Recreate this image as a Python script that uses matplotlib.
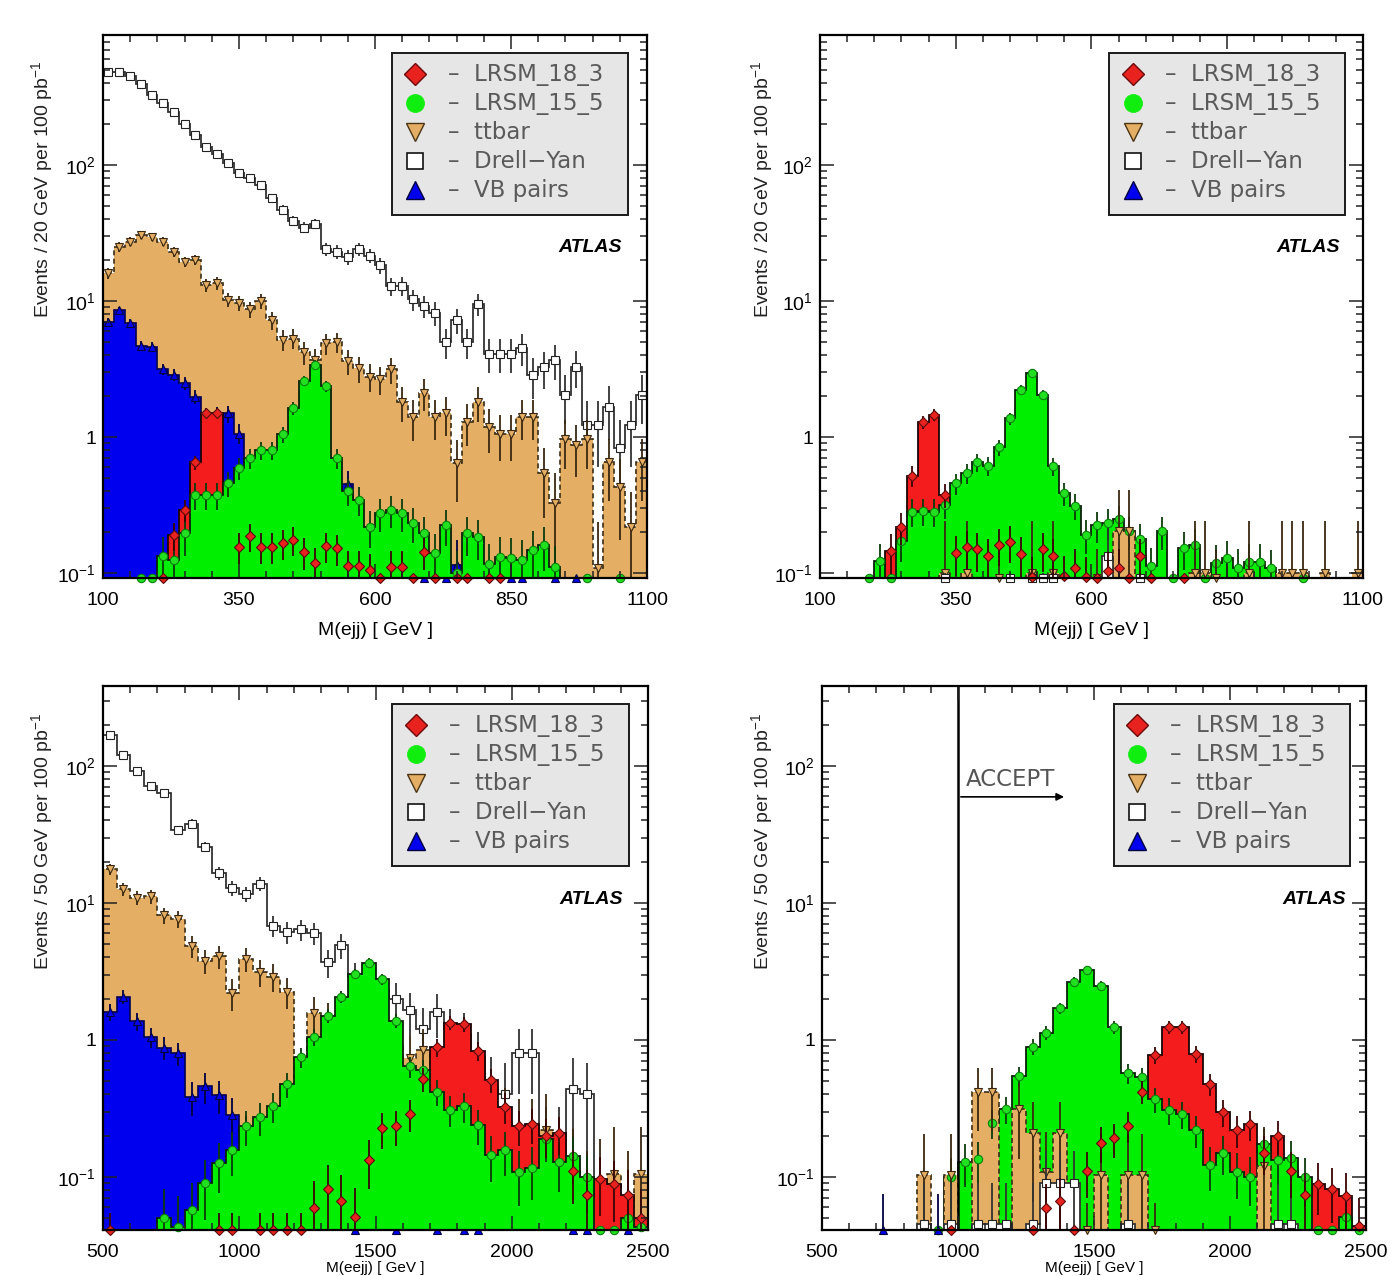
import numpy as np
import matplotlib
matplotlib.use("Agg")
import matplotlib.pyplot as plt
from matplotlib.ticker import FixedLocator, MultipleLocator, LogLocator, NullFormatter
from matplotlib.patches import Rectangle

plt.rcParams['font.family'] = ['Liberation Sans', 'DejaVu Sans']
plt.rcParams['mathtext.default'] = 'regular'

# ---------------- data ----------------
top_edges = np.linspace(100, 1100, 51)     # M(ejj), 20 GeV bins
bot_edges = np.linspace(500, 2500, 41)     # M(eejj), 50 GeV bins

legend_labels = ["LRSM_18_3", "LRSM_15_5", "ttbar", "Drell\u2212Yan", "VB pairs"]
top_xticks = [100, 350, 600, 850, 1100]
bot_xticks = [500, 1000, 1500, 2000, 2500]
yticks = [0.1, 1, 10, 100]
ytick_labels = ["10$^{-1}$", "1", "10$^{1}$", "10$^{2}$"]

# Panel 1 (top left)
p1_dy = [482, 482, 451, 392, 326, 288, 244, 201, 165, 136,
         121, 103, 87, 80, 71, 57, 47, 39, 34.7, 37,
         24, 23, 21, 24, 21.6, 18.3, 12.8, 12.9, 10.3, 9.2,
         8.2, 5.0, 7.2, 5.0, 9.5, 4.1, 4.1, 4.1, 4.5, 2.86,
         3.25, 3.7, 2.04, 3.3, 1.22, 1.22, 1.67, 0.83, 1.22, 2.04]
p1_tt = [16, 25, 27.3, 30.5, 29.7, 27.3, 23, 19.5, 20, 13.1,
         13.5, 10.2, 9.7, 8.7, 10, 7.2, 5.2, 5.3, 4.2, 3.7,
         4.9, 5.0, 3.6, 3.2, 2.77, 2.66, 3.15, 1.82, 1.40, 2.12,
         1.41, 1.49, 0.64, 1.30, 1.82, 1.19, 1.06, 1.06, 1.41, 1.41,
         0.54, 0.325, 0.96, 0.87, 0.96, 0.108, 0.65, 0.43, 0.217, 0.65]
p1_vb = [7.0, 8.6, 6.9, 4.7, 4.6, 3.15, 2.86, 2.5, 1.98, 1.3,
         1.45, 1.49, 1.06, 0.6, 0.55, 0.5, 0.45, 0.4, 0.4, 0.35,
         0.3, 0.3, 0.45, 0, 0, 0, 0, 0, 0, 0.05,
         0, 0.05, 0.115, 0, 0, 0, 0, 0.05, 0.05, 0,
         0, 0.05, 0, 0.05, 0, 0, 0, 0, 0, 0]
p1_red = [0, 0, 0, 0, 0, 0.05, 0.19, 0.29, 0.65, 1.5,
          1.5, 0, 0.156, 0.187, 0.156, 0.156, 0.166, 0.175, 0.143, 0.119,
          0.158, 0.152, 0.112, 0.112, 0.105, 0.05, 0.111, 0.111, 0.05, 0.143,
          0.05, 0, 0.05, 0.05, 0, 0.05, 0.05, 0, 0, 0,
          0, 0, 0, 0, 0, 0, 0, 0, 0, 0]
p1_green = [0, 0, 0, 0.05, 0.05, 0.133, 0.125, 0.196, 0.375, 0.375,
            0.375, 0.457, 0.589, 0.70, 0.80, 0.80, 1.05, 1.63, 2.6, 3.4,
            2.37, 0.70, 0.40, 0.344, 0.219, 0.275, 0.29, 0.275, 0.234, 0.196,
            0.14, 0.225, 0.10, 0.196, 0.185, 0.116, 0.132, 0.13, 0.125, 0.148,
            0.161, 0.11, 0, 0, 0.05, 0, 0, 0.05, 0, 0]
p1_weights = dict(dy=0.31, tt=0.15, vb=0.03, red=0.01, green=0.02)

# Panel 2 (top right)
p2_dy = [0, 0, 0, 0, 0, 0, 0, 0, 0, 0,
         0, 0.05, 0, 0, 0, 0, 0, 0.05, 0, 0.05,
         0.05, 0.05, 0, 0, 0, 0, 0.133, 0, 0, 0.05,
         0, 0, 0, 0, 0, 0, 0, 0, 0, 0,
         0, 0, 0, 0, 0, 0, 0, 0, 0, 0]
p2_tt = [0, 0, 0, 0, 0, 0, 0, 0, 0, 0,
         0, 0.1, 0, 0.1, 0, 0, 0.05, 0, 0, 0.1,
         0, 0.1, 0, 0, 0, 0.05, 0, 0.204, 0.204, 0,
         0, 0, 0, 0, 0.1, 0.1, 0.05, 0, 0, 0.1,
         0, 0, 0.1, 0.1, 0.1, 0, 0.1, 0, 0, 0.1]
p2_vb = [0] * 50
p2_red = [0, 0, 0, 0, 0, 0, 0.146, 0.218, 0.52, 1.29,
          1.45, 0.376, 0.141, 0.155, 0.149, 0.133, 0.162, 0.17, 0.139, 0.094,
          0.149, 0.133, 0.095, 0.109, 0.094, 0.05, 0.103, 0.109, 0.05, 0.133,
          0.05, 0, 0, 0.05, 0, 0, 0, 0, 0, 0,
          0, 0, 0, 0, 0, 0, 0, 0, 0, 0]
p2_green = [0, 0, 0, 0, 0.05, 0.122, 0.05, 0.172, 0.283, 0.286,
            0.283, 0.317, 0.456, 0.541, 0.653, 0.617, 0.843, 1.37, 2.22, 2.94,
            2.04, 0.61, 0.385, 0.312, 0.192, 0.225, 0.234, 0.248, 0.204, 0.177,
            0.112, 0.204, 0.05, 0.153, 0.162, 0.05, 0.119, 0.128, 0.109, 0.121,
            0.121, 0.108, 0, 0, 0.05, 0, 0, 0, 0, 0]
p2_weights = dict(dy=0.05, tt=0.2, vb=0.03, red=0.015, green=0.015)

# Panel 3 (bottom left)
p3_dy = [168, 120, 92, 71, 64, 34, 38, 25.8, 16.6, 12.8,
         11.6, 13.8, 6.8, 6.1, 6.4, 6.0, 3.7, 4.9, 2.9, 2.5,
         2.3, 1.98, 1.64, 1.21, 1.6, 1.2, 1.1, 0.75, 0.45, 0.40,
         0.80, 0.80, 0.15, 0.15, 0.44, 0.40, 0, 0, 0, 0]
p3_tt = [17.6, 12.7, 10.9, 11.2, 8.1, 7.6, 4.85, 3.8, 4.1, 2.2,
         3.9, 3.12, 2.9, 2.25, 0.5, 1.57, 1.4, 1.3, 1.2, 1.1,
         1.0, 0.9, 0.735, 0.845, 0.6, 0.5, 0.45, 0.4, 0.3, 0.25,
         0.2, 0.2, 0.22, 0.12, 0.1, 0.06, 0.08, 0.105, 0.06, 0.105]
p3_vb = [1.6, 2.07, 1.37, 1.05, 0.88, 0.80, 0.385, 0.46, 0.395, 0.283,
         0.2, 0.15, 0.1, 0, 0, 0, 0, 0, 0.02, 0,
         0, 0.02, 0, 0, 0.02, 0, 0.02, 0.02, 0, 0,
         0, 0, 0, 0, 0.02, 0.02, 0, 0, 0.02, 0]
p3_red = [0.03, 0, 0, 0, 0, 0, 0, 0, 0.03, 0.03,
          0, 0.03, 0.03, 0.03, 0.03, 0.059, 0.081, 0.067, 0.051, 0.133,
          0.227, 0.236, 0.288, 0.517, 0.885, 1.34, 1.31, 0.836, 0.51, 0.326,
          0.236, 0.244, 0.20, 0.21, 0.111, 0.074, 0.096, 0.089, 0.074, 0.05]
p3_green = [0, 0, 0, 0, 0.05, 0.043, 0.057, 0.091, 0.127, 0.157,
            0.236, 0.273, 0.33, 0.477, 0.747, 1.05, 1.50, 2.07, 3.03, 3.67,
            2.77, 1.38, 0.64, 0.60, 0.42, 0.31, 0.33, 0.24, 0.145, 0.157,
            0.108, 0.116, 0.19, 0.129, 0.142, 0.0995, 0.02, 0.02, 0.05, 0.043]
p3_weights = dict(dy=0.2, tt=0.15, vb=0.03, red=0.02, green=0.02)

# Panel 4 (bottom right)
p4_dy = [0, 0, 0, 0, 0, 0, 0, 0.045, 0, 0.045,
         0, 0.045, 0.045, 0.045, 0, 0.045, 0.09, 0.09, 0.09, 0,
         0, 0, 0.045, 0, 0, 0, 0, 0, 0, 0,
         0, 0, 0, 0.045, 0.045, 0, 0, 0, 0, 0]
p4_tt = [0, 0, 0, 0, 0, 0, 0, 0.103, 0, 0.103,
         0, 0.42, 0.42, 0, 0.312, 0.21, 0.108, 0.21, 0, 0.02,
         0.103, 0, 0.103, 0.103, 0.02, 0, 0, 0, 0, 0,
         0, 0, 0.12, 0, 0, 0, 0, 0, 0, 0]
p4_vb = [0, 0, 0, 0, 0.03, 0, 0, 0, 0.03, 0,
         0, 0, 0, 0, 0, 0, 0, 0, 0, 0,
         0, 0, 0, 0, 0, 0, 0, 0, 0, 0,
         0, 0, 0, 0, 0, 0, 0, 0, 0, 0]
p4_red = [0, 0, 0, 0, 0, 0, 0, 0, 0, 0.02,
          0, 0, 0, 0, 0, 0.02, 0.059, 0.067, 0.02, 0.111,
          0.178, 0.191, 0.236, 0.42, 0.777, 1.24, 1.24, 0.79, 0.477, 0.30,
          0.22, 0.244, 0.15, 0.20, 0.111, 0.074, 0.089, 0.081, 0.073, 0.044]
p4_green = [0, 0, 0, 0, 0, 0, 0, 0, 0.02, 0.0995,
            0.129, 0.135, 0.249, 0.312, 0.546, 0.893, 1.13, 1.70, 2.66, 3.24,
            2.48, 1.24, 0.571, 0.534, 0.369, 0.308, 0.288, 0.22, 0.122, 0.15,
            0.109, 0.10, 0.174, 0.132, 0.137, 0.0995, 0.02, 0.02, 0.051, 0.02]
p4_weights = dict(dy=0.045, tt=0.1, vb=0.0675, red=0.015, green=0.015)

accept_cut = 1000
accept_arrow_end = 1400
accept_arrow_y = 59.5
accept_text_pos = (1030, 72)

# ---------------- styles ----------------
STYLE = {
    'red':   dict(fc='#f41c1c', lc='#1a0505', ls='-', lw=1.3, marker='D', ms=5.0,
                  mfc='#e8221e', mec='#5a0a0a', ecol='#3a0505'),
    'green': dict(fc='#00ef00', lc='#0a200a', ls='-', lw=1.3, marker='o', ms=6.0,
                  mfc='#20e020', mec='#0a800a', ecol='#0b3b0b'),
    'tt':    dict(fc='#e4ae64', lc='#3a2c14', ls=(0, (3, 2)), lw=1.2, marker='v', ms=6.0,
                  mfc='#e4ae64', mec='#3a2810', ecol='#3a2810'),
    'dy':    dict(fc='white', lc='#333333', ls='-', lw=1.3, marker='s', ms=5.5,
                  mfc='white', mec='#222222', ecol='#333333'),
    'vb':    dict(fc='#0000ee', lc='#000050', ls='-', lw=1.2, marker='^', ms=6.0,
                  mfc='#0000ee', mec='#000040', ecol='#000040'),
}
LEG_KEYS = ['red', 'green', 'tt', 'dy', 'vb']
LEG_MARK = {
    'red':   dict(marker='D', ms=11, mfc='#e8221e', mec='#6a0a0a', mew=1.0),
    'green': dict(marker='o', ms=13, mfc='#10ee10', mec='#10ee10', mew=0.5),
    'tt':    dict(marker='v', ms=13, mfc='#e4ae64', mec='#4a3414', mew=1.0),
    'dy':    dict(marker='s', ms=12, mfc='white', mec='#111111', mew=1.2),
    'vb':    dict(marker='^', ms=13, mfc='#0000ee', mec='#000040', mew=1.0),
}


def fill_hist(ax, key, vals, edges, ymin, z):
    st = STYLE[key]
    v = np.asarray(vals, float)
    base = ymin * 1e-3
    ax.stairs(np.where(v > 0, v, base), edges, baseline=base, fill=True,
              facecolor=st['fc'], edgecolor=st['lc'], linestyle=st['ls'],
              linewidth=st['lw'], zorder=z)


def mark_hist(ax, key, vals, edges, ymin, w, z):
    st = STYLE[key]
    v = np.asarray(vals, float)
    c = 0.5 * (edges[:-1] + edges[1:])
    m = v > 0
    err = np.sqrt(w * v)
    lo = np.maximum(v - err, ymin * 0.5)
    hi = v + err
    ax.vlines(c[m], lo[m], hi[m], colors=st['ecol'], linewidth=1.3, zorder=z)
    ym = np.maximum(v, ymin)
    ax.plot(c[m], ym[m], ls='none', marker=st['marker'], ms=st['ms'],
            mfc=st['mfc'], mec=st['mec'], mew=0.8, clip_on=False, zorder=z + 0.05)


def style_axes(ax, edges, xticks, minor_step, ylim):
    ax.set_yscale('log')
    ax.set_xlim(edges[0], edges[-1])
    ax.set_ylim(*ylim)
    ax.xaxis.set_major_locator(FixedLocator(xticks))
    ax.xaxis.set_minor_locator(MultipleLocator(minor_step))
    ax.set_xticklabels([str(t) for t in xticks])
    ax.yaxis.set_major_locator(FixedLocator(yticks))
    ax.set_yticklabels(ytick_labels)
    ax.yaxis.set_minor_locator(LogLocator(base=10, subs=np.arange(2, 10)))
    ax.yaxis.set_minor_formatter(NullFormatter())
    ax.tick_params(which='both', direction='in', top=True, right=True,
                   width=1.1, color='#222222', labelsize=14)
    ax.tick_params(which='major', length=10)
    ax.tick_params(which='minor', length=5)
    ax.tick_params(axis='x', pad=10)
    ax.tick_params(axis='y', pad=5)
    for s in ax.spines.values():
        s.set_linewidth(1.6)
        s.set_zorder(12)
    ax.xaxis.set_zorder(11)
    ax.yaxis.set_zorder(11)


def draw_legend(ax, dx=0.0):
    ax.add_patch(Rectangle((0.531 + dx, 0.6685), 0.434, 0.2985, transform=ax.transAxes,
                           facecolor='#e6e6e6', edgecolor='#1a1a1a', linewidth=1.4,
                           zorder=20, clip_on=False))
    ys = [0.928, 0.8748, 0.8214, 0.768, 0.7145]
    for key, lab, y in zip(LEG_KEYS, legend_labels, ys):
        ax.plot([0.5738 + dx], [y], transform=ax.transAxes, ls='none',
                zorder=21, clip_on=False, **LEG_MARK[key])
        ax.text(0.634 + dx, y, "\u2013  " + lab, transform=ax.transAxes, ha='left',
                va='center', fontsize=16.5, color='#5a5a5a', family='DejaVu Sans',
                zorder=21)


def atlas(ax, x):
    ax.text(x, 0.608, 'ATLAS', transform=ax.transAxes, ha='right', va='center',
            fontsize=14, fontweight='bold', fontstyle='italic', color='black', zorder=21)


fig = plt.figure(figsize=(13.9, 12.76), dpi=100)
ax1 = fig.add_axes([0.0741, 0.5470, 0.39137, 0.42555])
ax2 = fig.add_axes([0.5899, 0.5470, 0.39065, 0.42555])
ax3 = fig.add_axes([0.0741, 0.0361, 0.39209, 0.42633])
ax4 = fig.add_axes([0.5914, 0.0361, 0.39137, 0.42633])

top_ylim = (0.0919, 903)
bot_ylim = (0.041, 384)

panels = [
    (ax1, top_edges, dict(dy=p1_dy, tt=p1_tt, vb=p1_vb, red=p1_red, green=p1_green), p1_weights, top_ylim, 'A'),
    (ax2, top_edges, dict(dy=p2_dy, tt=p2_tt, vb=p2_vb, red=p2_red, green=p2_green), p2_weights, top_ylim, 'B'),
    (ax3, bot_edges, dict(dy=p3_dy, tt=p3_tt, vb=p3_vb, red=p3_red, green=p3_green), p3_weights, bot_ylim, 'A'),
    (ax4, bot_edges, dict(dy=p4_dy, tt=p4_tt, vb=p4_vb, red=p4_red, green=p4_green), p4_weights, bot_ylim, 'B'),
]

for ax, edges, data, wts, ylim, mode in panels:
    ymin = ylim[0]
    if mode == 'A':
        fz = dict(dy=1, tt=2, vb=3, red=4, green=5)
        mz = dict(dy=1.5, tt=2.5, vb=3.5, green=5.5, red=6)
    else:
        fz = dict(red=1, green=2, tt=3, dy=4, vb=5)
        mz = dict(green=6, tt=6.2, dy=6.4, vb=6.6, red=7)
    for key in fz:
        fill_hist(ax, key, data[key], edges, ymin, fz[key])
    for key in mz:
        mark_hist(ax, key, data[key], edges, ymin, wts[key], mz[key])

style_axes(ax1, top_edges, top_xticks, 50, top_ylim)
style_axes(ax2, top_edges, top_xticks, 50, top_ylim)
style_axes(ax3, bot_edges, bot_xticks, 100, bot_ylim)
style_axes(ax4, bot_edges, bot_xticks, 100, bot_ylim)

draw_legend(ax1)
draw_legend(ax2, 0.002)
draw_legend(ax3)
draw_legend(ax4, 0.006)
atlas(ax1, 0.954)
atlas(ax2, 0.958)
atlas(ax3, 0.954)
atlas(ax4, 0.963)

# ACCEPT marker in panel 4
ax4.axvline(accept_cut, color='black', lw=1.8, zorder=9)
ax4.annotate('', xy=(accept_arrow_end, accept_arrow_y), xytext=(accept_cut, accept_arrow_y),
             arrowprops=dict(arrowstyle='-|>', color='black', lw=1.2, mutation_scale=11),
             zorder=9)
ax4.text(accept_text_pos[0], accept_text_pos[1], 'ACCEPT', fontsize=16.5, color='#555555',
         family='DejaVu Sans', va='baseline', ha='left', zorder=9)

# axis titles
lab_kw = dict(fontsize=14, color='#222222')
fig.text(42 / 1390, 1 - 60 / 1276, 'Events / 20 GeV per 100 pb$^{-1}$', rotation=90,
         ha='center', va='top', **lab_kw)
fig.text(762 / 1390, 1 - 60 / 1276, 'Events / 20 GeV per 100 pb$^{-1}$', rotation=90,
         ha='center', va='top', **lab_kw)
fig.text(42 / 1390, 1 - 712 / 1276, 'Events / 50 GeV per 100 pb$^{-1}$', rotation=90,
         ha='center', va='top', **lab_kw)
fig.text(762 / 1390, 1 - 712 / 1276, 'Events / 50 GeV per 100 pb$^{-1}$', rotation=90,
         ha='center', va='top', **lab_kw)
fig.text(375 / 1390, 1 - 631 / 1276, 'M(ejj) [ GeV ]', ha='center', va='center', fontsize=14)
fig.text(1091 / 1390, 1 - 631 / 1276, 'M(ejj) [ GeV ]', ha='center', va='center', fontsize=14)
fig.text(375 / 1390, 1 - 1268 / 1276, 'M(eejj) [ GeV ]', ha='center', va='center', fontsize=11)
fig.text(1094 / 1390, 1 - 1268 / 1276, 'M(eejj) [ GeV ]', ha='center', va='center', fontsize=11)

fig.savefig('out.png', dpi=100)
